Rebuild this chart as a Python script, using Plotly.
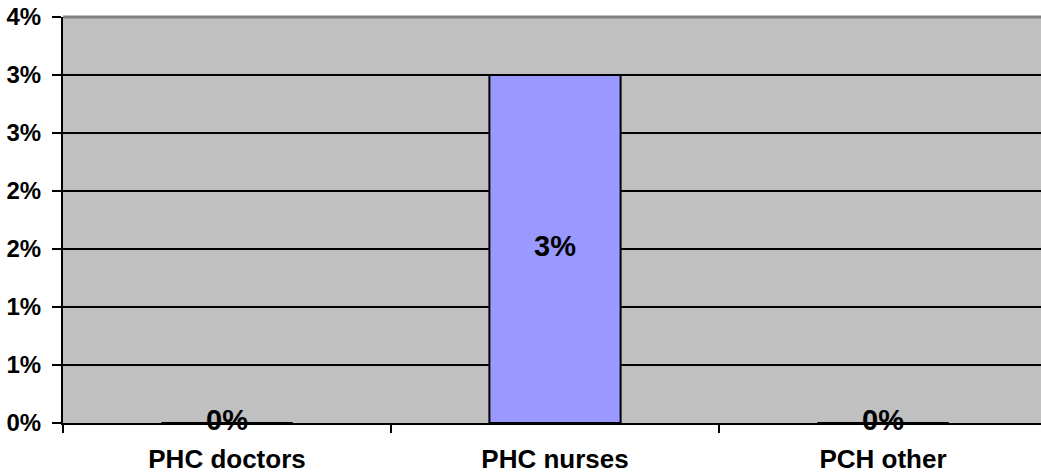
import plotly.graph_objects as go

categories = ["PHC doctors", "PHC nurses", "PCH other"]
values = [0.0, 3.0, 0.0]  # percent
value_labels = ["0%", "3%", "0%"]

tick_vals = [0, 0.5, 1.0, 1.5, 2.0, 2.5, 3.0, 3.5]
tick_text = ["0%", "1%", "1%", "2%", "2%", "3%", "3%", "4%"]

FONT = "Liberation Sans, Arial, sans-serif"

fig = go.Figure()
fig.add_trace(go.Bar(
    x=categories, y=values, width=0.4,
    marker=dict(color="#9999FF", line=dict(color="black", width=2)),
    hoverinfo="skip",
))
fig.add_trace(go.Scatter(
    x=categories, y=[v / 2 for v in values], mode="text",
    text=value_labels, textposition="middle center",
    textfont=dict(family=FONT, size=29, color="black", weight="bold"),
    cliponaxis=False, hoverinfo="skip",
))

# the plot area runs a few pixels past the right edge of the window
fig.update_layout(
    width=1047, height=475,
    margin=dict(l=63, r=0, t=17, b=52, autoexpand=False),
    paper_bgcolor="white", plot_bgcolor="#C0C0C0",
    showlegend=False,
    font=dict(family=FONT, color="black"),
    # grey plot-area border, only the top edge is visible in the original
    shapes=[dict(type="line", xref="paper", yref="paper", x0=0, x1=1, y0=1, y1=1,
                 line=dict(color="#808080", width=3), layer="below")],
)
fig.update_xaxes(
    automargin=False,
    showgrid=False, showline=True, linecolor="black", linewidth=2,
    ticks="outside", tickson="boundaries", ticklen=8, tickcolor="black", tickwidth=2,
    tickfont=dict(family=FONT, size=26, weight="bold"), ticklabelstandoff=12,
)
fig.update_yaxes(
    automargin=False,
    range=[0, 3.5], tickvals=tick_vals, ticktext=tick_text,
    showgrid=True, gridcolor="black", gridwidth=2,
    showline=True, linecolor="black", linewidth=2, zeroline=False,
    ticks="outside", ticklen=9, tickcolor="black", tickwidth=2,
    tickfont=dict(family=FONT, size=24, weight="bold"), ticklabelstandoff=6,
)

# drop the default 8px page margin and any scrollbars
fig.write_html(
    "out.html",
    config={"displayModeBar": False},
    post_script="document.body.style.margin='0';document.body.style.overflow='hidden';",
)
